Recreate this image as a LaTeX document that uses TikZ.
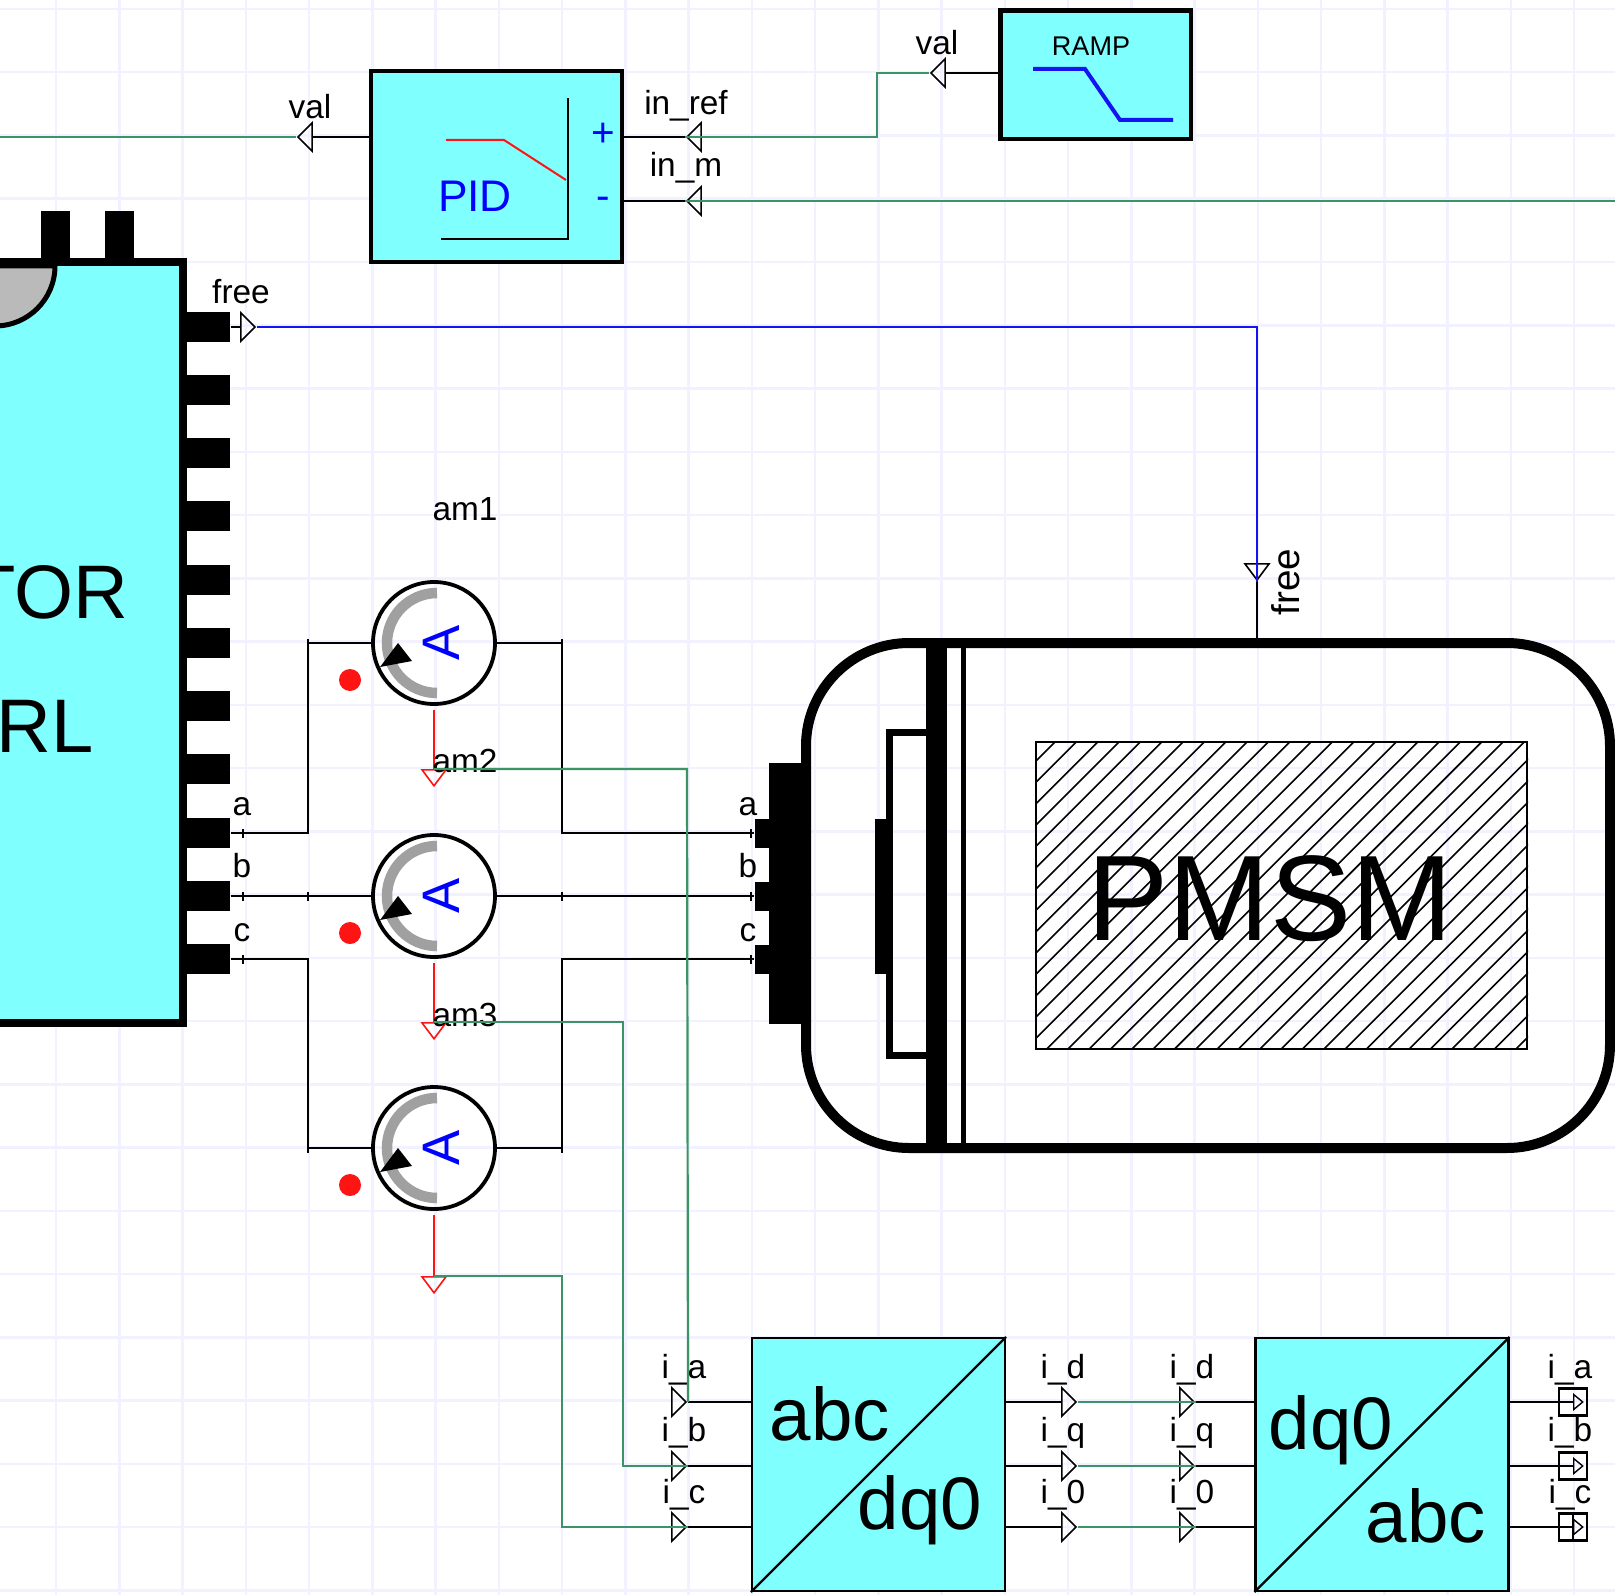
\documentclass[tikz,border=0pt]{standalone}
\usepackage{fontspec}
\setmainfont{Liberation Sans}
\usetikzlibrary{positioning,arrows.meta,calc,shapes.geometric}
\definecolor{blockcyan}{RGB}{128,255,255}
\definecolor{sigreen}{RGB}{60,148,102}
\definecolor{gridblue}{RGB}{241,241,255}
\definecolor{puregray}{RGB}{160,160,160}
\definecolor{purered}{RGB}{255,20,20}
\definecolor{pureblue}{RGB}{20,20,240}

\begin{document}
\begin{tikzpicture}[
  x=0.1mm, y=-0.1mm,
  lbl/.style={anchor=base, inner sep=0pt, font=\fontsize{9.5}{11}\selectfont},
  big/.style={anchor=base, inner sep=0pt, font=\fontsize{21.2}{24}\selectfont},
  gridl/.style={gridblue, line width=.25mm},
  block/.style={draw, fill=blockcyan, line width=.4mm, inner sep=0pt},
  conv/.style={draw, fill=blockcyan, line width=.22mm, inner sep=0pt, minimum width=25.3mm, minimum height=25.3mm},
  pinbox/.style={fill=black, inner sep=0pt, minimum width=4.4mm, minimum height=3mm},
  motpin/.style={fill=black, inner sep=0pt, minimum width=1.5mm, minimum height=2.9mm},
  tick/.style={fill=black, inner sep=0pt, minimum width=.2mm, minimum height=.9mm},
  wire/.style={line width=.22mm},
  sig/.style={sigreen, line width=.22mm},
  port/.style={draw, line width=.16mm, isosceles triangle, isosceles triangle stretches,
    inner sep=0pt, shape border rotate=#1, minimum width=2.8mm, minimum height=1.4mm},
  vport/.style={draw, line width=.16mm, isosceles triangle, isosceles triangle stretches,
    inner sep=0pt, shape border rotate=#1, minimum width=2.4mm, minimum height=1.6mm},
  outbox/.style={draw, line width=.22mm, inner sep=0pt, minimum width=2.8mm, minimum height=2.7mm},
  smallport/.style={draw, line width=.14mm, isosceles triangle, isosceles triangle stretches,
    inner sep=0pt, minimum width=1.5mm, minimum height=.9mm},
  meter/.style={draw, circle, line width=.38mm, inner sep=0pt, minimum size=12.2mm},
  dial/.style={puregray, line width=1.05mm},
]
\path[use as bounding box] (0,0) rectangle (1615,1595);
\clip (0,0) rectangle (1615,1595);
\fill[white] (0,0) rectangle (1615,1595);

\foreach \k in {0,...,24} \draw[gridl] ({56+63.25*\k},0) -- ({56+63.25*\k},1595);
\foreach \k in {0,...,25} \draw[gridl] (0,{9+63.25*\k}) -- (1615,{9+63.25*\k});

% controller
\fill (41,211) rectangle (70,262);
\fill (105,211) rectangle (134,262);
\node[block, line width=.75mm, minimum width=26.3mm, minimum height=76.1mm] (ctrl) at (51.5,642.5) {};
\draw[fill=black!27, line width=.5mm] (55,266) arc[start angle=0, end angle=-90, radius=6mm] -- (-5,266) -- cycle;
\node[anchor=base east, inner sep=0pt, font=\fontsize{21.6}{25}\selectfont] (ctrltxt1) at (129,618) {TOR};
\node[anchor=base east, inner sep=0pt, font=\fontsize{21.6}{25}\selectfont] (ctrltxt2) at (94,752) {RL};
\foreach \y [count=\i] in {327,390,453,516,580,643,706,769,833,896,959}
  \node[pinbox] (pin\i) at (208,\y) {};

% pid and ramp
\node[block, minimum width=25.1mm, minimum height=19.1mm] (pid) at (496.5,166.5) {};
\draw[wire] (441,239) -- (568,239) -- (568,98);
\draw[purered, line width=.2mm] (446,140) -- (504,140) -- (566,180);
\node[anchor=base, inner sep=0pt, blue, font=\fontsize{12.6}{15}\selectfont] (pidtxt) at (475,212) {PID};
\node[blue, inner sep=0pt, font=\fontsize{11.5}{14}\selectfont] (plus) at (603,135) {+};
\node[blue, inner sep=0pt, font=\fontsize{11.5}{14}\selectfont] (minus) at (603,203) {-};
\node[block, line width=.45mm, minimum width=19.05mm, minimum height=12.85mm] (ramp) at (1095.75,74.75) {};
\node[anchor=base, inner sep=0pt, font=\fontsize{7.7}{9}\selectfont] (ramptxt) at (1091,56) {RAMP};
\draw[pureblue, line width=.4mm] (1033,69) -- (1085,69) -- (1120,120) -- (1173,120);

\node[port=180, anchor=apex] (pidval) at (296,137) {};
\node[port=180, anchor=apex] (pidref) at (685,137) {};
\node[port=180, anchor=apex] (pidm) at (685,201) {};
\node[port=180, anchor=apex] (rampval) at (929,73) {};
\node[lbl] (pidvallbl) at (310,119) {val};
\node[lbl] (pidreflbl) at (686,115) {in\_ref};
\node[lbl] (pidmlbl) at (686,177) {in\_m};
\node[lbl] (rampvallbl) at (937,55) {val};
\draw[wire] (pidval.lower side) -- (pid.west|-pidval.lower side);
\draw[wire] (pidref.apex) -- (pid.east|-pidref.apex);
\draw[wire] (pidm.apex) -- (pid.east|-pidm.apex);
\draw[wire] (rampval.lower side) -- (ramp.west|-rampval.lower side);
\coordinate (westend) at (0,137);
\coordinate (eastend) at (1615,201);
\draw[sig] (westend) -- (pidval.apex);
\draw[sig] (pidm.apex) -- (eastend);
\draw[sig] (pidref.apex) -- (877,137) -- (877,73) -- (rampval.apex);

% motor
\node[draw, line width=1mm, rounded corners=1.03cm, minimum width=80.4mm, minimum height=50.5mm] (motor) at (1208,895.5) {};
\fill (926,640) rectangle (947,1151);
\fill (961,640) rectangle (966,1151);
\draw[line width=.7mm] (926,732.5) -- (889.5,732.5) -- (889.5,1055.5) -- (926,1055.5);
\fill (875,819) rectangle (886,974);
\fill (769,763) rectangle (804,1024);
\node[draw, line width=.2mm, inner sep=0pt, minimum width=49.1mm, minimum height=30.7mm] (hatch) at (1281.5,895.5) {};
\begin{scope}
  \clip (hatch.south west) rectangle (hatch.north east);
  \foreach \c in {1797,1818.33,...,2590} \draw[line width=.16mm] (\c-742,742) -- (\c-1049,1049);
\end{scope}
\node[inner sep=0pt, font=\fontsize{34.6}{40}\selectfont] (pmsm) at (1270,899) {PMSM};
\foreach \y [count=\i] in {833,896,959}
  \node[motpin] (mot\i) at (762,\y) {};
\foreach \t/\b [count=\i] in {a/815,b/877,c/941} {
  \node[lbl] (ctrlp\i) at (242,\b) {\t};
  \node[lbl] (motp\i) at (748,\b) {\t};
}

% free signal
\node[port=0, anchor=apex] (freeout) at (257,327) {};
\node[vport=270, anchor=apex] (freein) at (1257,582) {};
\node[lbl] (freeoutlbl) at (241,303) {free};
\node[lbl, rotate=90, font=\fontsize{11}{13}\selectfont] (freeinlbl) at (1299,582) {free};
\draw[wire] (pin1.east) -- (freeout.lower side);
\draw[wire] (freein.apex) -- (motor.north-|freein.apex);
\draw[pureblue, line width=.22mm] (freeout.apex) -| (freein.apex);

% ammeters
\foreach \n/\y/\o in {1/643/769,2/896/1022,3/1148/1276} {
  \draw[dial] (437,\y-50) arc[start angle=90, end angle=270, radius=5mm];
  \node[meter] (am\n) at (434,\y) {};
  \fill (380,\y+24) -- (398,\y) -- (412,\y+18) -- cycle;
  \fill[purered] (350,\y+37) circle[radius=1.1mm];
  \node[inner sep=0pt, rotate=90, blue, font=\fontsize{15}{18}\selectfont] (amsym\n) at (441,\y) {A};
  \node[vport=270, draw=purered, anchor=lower side] (amo\n) at (434,\o) {};
  \draw[purered, line width=.22mm] ([yshift=-.4mm]am\n.south) -- (amo\n.lower side);
  \node[tick] (tl\n) at (308,\y) {};
  \node[tick] (tr\n) at (562,\y) {};
}
\node[lbl] (amlbl1) at (465,520) {am1};
\node[lbl] (amlbl2) at (465,772) {am2};
\node[lbl] (amlbl3) at (465,1026) {am3};
\foreach \i/\p in {1/9,2/10,3/11} {
  \node[tick] (cp\i) at (243,0|-pin\p) {};
  \node[tick] (mp\i) at (751,0|-mot\i) {};
}

% three phase wiring
\draw[wire] (pin9.east) -| (tl1.center) -- (am1.west);
\draw[wire] (am1.east) -- (tr1.center) |- (mot1.west);
\draw[wire] (pin10.east) -- (am2.west);
\draw[wire] (am2.east) -- (mot2.west);
\draw[wire] (pin11.east) -| (tl3.center) -- (am3.west);
\draw[wire] (am3.east) -- (tr3.center) |- (mot3.west);

% abc to dq0
\node[conv] (abcdq) at (878.5,1464.5) {};
\draw[wire] (abcdq.south west) -- (abcdq.north east);
\node[big] (abctxt1) at (830,1440) {abc};
\node[big] (abctxt2) at (920,1529) {dq0};
\node[conv] (dqabc) at (1382,1464.5) {};
\draw[wire] (dqabc.south west) -- (dqabc.north east);
\node[big] (dqtxt1) at (1331,1449) {dq0};
\node[big] (dqtxt2) at (1426,1542) {abc};
\foreach \n/\y/\b/\ia/\id in {1/1402/1378/a/d,2/1466/1441/b/q,3/1527/1503/c/0} {
  \node[port=0, anchor=apex] (abcin\n) at (688,\y) {};
  \node[port=0, anchor=apex] (abcout\n) at (1078,\y) {};
  \node[port=0, anchor=apex] (dqin\n) at (1196,\y) {};
  \node[outbox] (dqout\n) at (1573,\y) {};
  \node[smallport, anchor=lower side] (dqtri\n) at (1573,\y) {};
  \node[lbl] (abcinl\n) at (684,\b) {i\_\ia};
  \node[lbl] (abcoutl\n) at (1063,\b) {i\_\id};
  \node[lbl] (dqinl\n) at (1192,\b) {i\_\id};
  \node[lbl] (dqoutl\n) at (1570,\b) {i\_\ia};
  \draw[wire] (abcin\n.apex) -- (abcdq.west|-abcin\n.apex);
  \draw[wire] (abcdq.east|-abcout\n.apex) -- (abcout\n.lower side);
  \draw[wire] (dqin\n.apex) -- (dqabc.west|-dqin\n.apex);
  \draw[wire] (dqabc.east|-dqout\n) -- (dqout\n.center);
  \draw[sig] (abcout\n.apex) -- (dqin\n.apex);
}
\draw[line width=.14mm] (dqout3.north) -- (dqout3.south);

% current feedback
\draw[sig] (amo1.lower side) -- (687,769) -- (abcin1.apex);
\draw[sig] (amo2.lower side) -- (623,1022) -- (623,1466) -- (abcin2.apex);
\draw[sig] (amo3.lower side) -- (562,1276) -- (562,1527) -- (abcin3.apex);
\end{tikzpicture}
\end{document}
